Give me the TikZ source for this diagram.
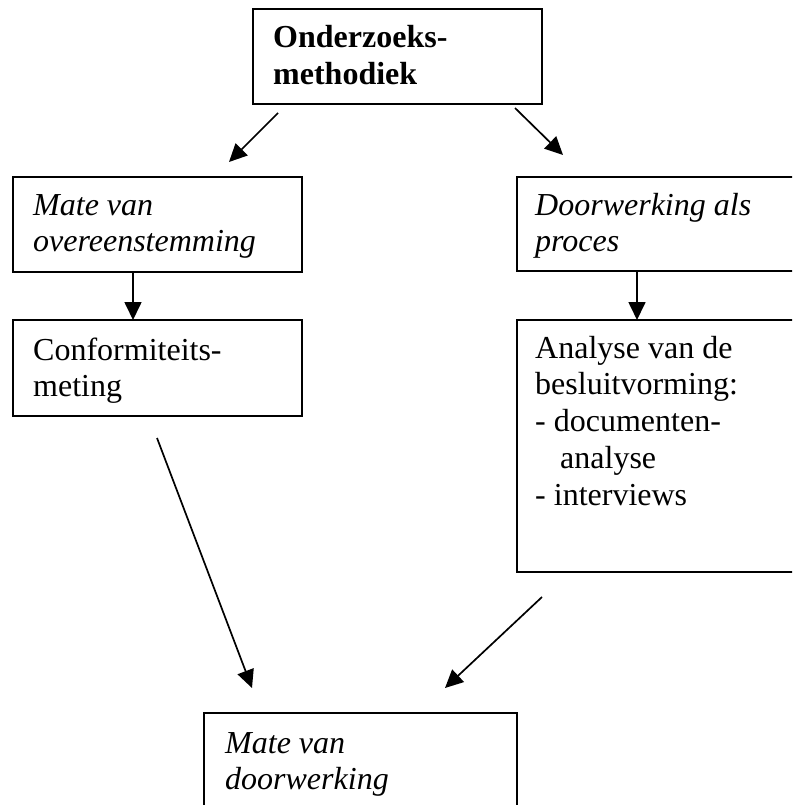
\documentclass[tikz,border=0pt]{standalone}
\usepackage{fontspec}
\setmainfont{Liberation Serif}
\usetikzlibrary{arrows.meta,calc}
\begin{document}
\begin{tikzpicture}[x=1pt,y=-1pt,
  box/.style={draw, line width=2pt, rectangle, anchor=north west, inner sep=0pt, outer sep=0pt},
  txt/.style={anchor=base west, inner sep=0pt, font=\fontsize{32}{36.8}\selectfont},
  arr/.style={line width=1.7pt, -{Triangle[length=18pt,width=17pt]}}]
\useasboundingbox (0,0) rectangle (792,805);
\clip (0,0) rectangle (792,805);
% boxes
\node[box, minimum width=289, minimum height=95] (top) at (253,9) {};
\node[box, minimum width=289, minimum height=95] (mo) at (13,177) {};
\node[box, minimum width=289, minimum height=96] (conf) at (13,320) {};
\node[box, minimum width=320, minimum height=94] (dw) at (517,177) {};
\node[box, minimum width=320, minimum height=252] (an) at (517,320) {};
\node[box, minimum width=313, minimum height=150] (md) at (204,713) {};
% texts
\node[txt] (ttop) at ($(top.north west)+(20,39)$) {\bfseries\begin{tabular}[t]{@{}l@{}}Onderzoeks-\\methodiek\end{tabular}};
\node[txt] (tmo) at ($(mo.north west)+(20,38)$) {\itshape\begin{tabular}[t]{@{}l@{}}Mate van\\overeenstemming\end{tabular}};
\node[txt] (tconf) at ($(conf.north west)+(20,40)$) {\begin{tabular}[t]{@{}l@{}}Conformiteits-\\meting\end{tabular}};
\node[txt] (tdw) at ($(dw.north west)+(18,38)$) {\itshape\begin{tabular}[t]{@{}l@{}}Doorwerking als\\proces\end{tabular}};
\node[txt] (tan) at ($(an.north west)+(18,38)$) {\begin{tabular}[t]{@{}l@{}}Analyse van de\\besluitvorming:\\- documenten-\\\hspace*{25pt}analyse\\- interviews\end{tabular}};
\node[txt] (tmd) at ($(md.north west)+(21,40)$) {\itshape\begin{tabular}[t]{@{}l@{}}Mate van\\doorwerking\end{tabular}};
% arrow ends
\coordinate (a1s) at (278,113);
\coordinate (a1e) at (229,162);
\coordinate (a2s) at (515,108);
\coordinate (a2e) at (563,155);
\coordinate (a3s) at (157,438);
\coordinate (a3e) at (252,688);
\coordinate (a4s) at (542,597);
\coordinate (a4e) at (445,688);
% connectors
\draw[arr] (a1s) -- (a1e);
\draw[arr] (a2s) -- (a2e);
\draw[arr] ([xshift=120pt]mo.south west) -- ([xshift=120pt]conf.north west);
\draw[arr] ([xshift=120pt]dw.south west) -- ([xshift=120pt]an.north west);
\draw[arr] (a3s) -- (a3e);
\draw[arr] (a4s) -- (a4e);
\end{tikzpicture}
\end{document}
